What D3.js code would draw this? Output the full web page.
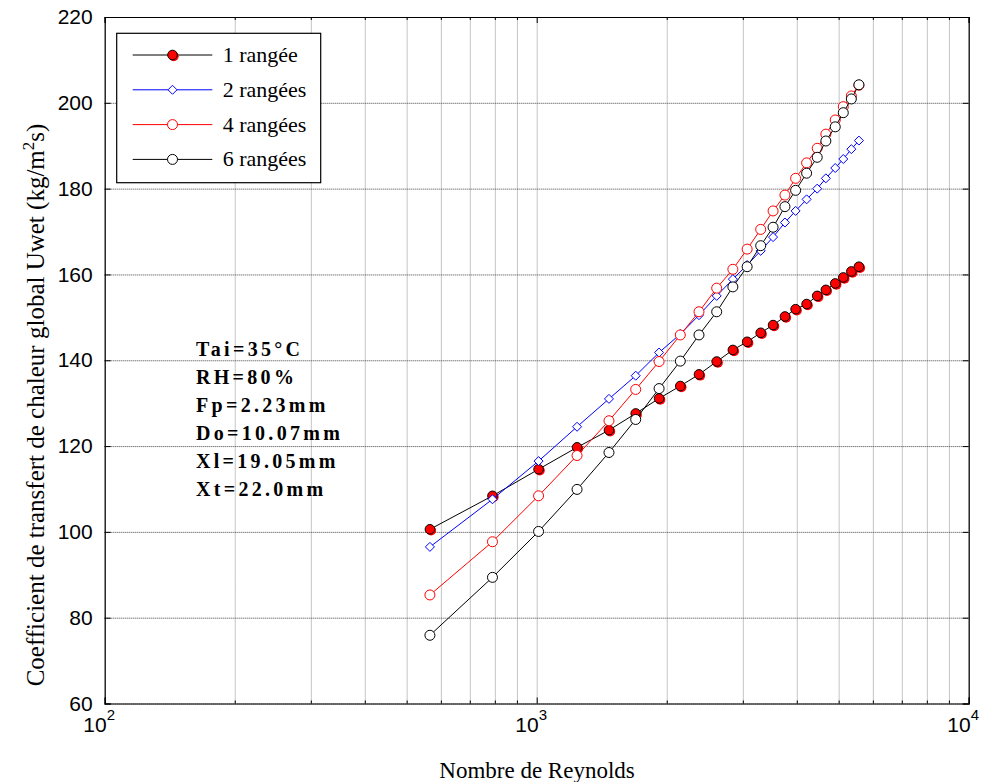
<!DOCTYPE html>
<html>
<head>
<meta charset="utf-8">
<script src="https://cdn.jsdelivr.net/npm/d3@7"></script>
<style>
  body { margin: 0; background: #fff; }
  svg { display: block; }
  .tick text { font-family: "Liberation Sans", Arial, sans-serif; font-size: 21px; fill: #000; }
</style>
</head>
<body>
<svg id="chart" width="989" height="782"></svg>
<script>
// Reynolds numbers (shared by all series)
const reynolds = [566, 790, 1010, 1240, 1470, 1695, 1920, 2150, 2375, 2610, 2845, 3070,
  3300, 3525, 3755, 3975, 4215, 4460, 4670, 4910, 5125, 5350, 5570];

const rangee1 = [100.6, 108.4, 114.6, 119.7, 123.7, 127.6, 131.1, 134.0, 136.7, 139.7, 142.4, 144.3,
  146.4, 148.2, 150.2, 151.9, 153.1, 155.0, 156.4, 157.9, 159.3, 160.7, 161.8];
const rangee2 = [96.5, 107.6, 116.5, 124.5, 131.0, 136.4, 141.8, 146.1, 150.5, 155.0, 158.9, 162.2,
  165.5, 168.7, 172.1, 174.8, 177.5, 180.0, 182.4, 184.8, 186.9, 189.2, 191.2];
const rangee4 = [85.3, 97.7, 108.4, 117.8, 125.9, 133.2, 139.7, 145.9, 151.3, 156.8, 161.2, 165.9,
  170.5, 174.8, 178.5, 182.4, 186.0, 189.4, 192.7, 196.0, 199.1, 201.6, 204.1];
const rangee6 = [75.9, 89.4, 100.1, 109.9, 118.5, 126.2, 133.4, 139.8, 145.9, 151.3, 157.1, 161.8,
  166.7, 171.0, 175.8, 179.6, 183.6, 187.3, 191.1, 194.4, 197.7, 200.9, 204.2];

const seriesNames = ['1 rangée', '2 rangées', '4 rangées', '6 rangées'];
const yTicks = [60, 80, 100, 120, 140, 160, 180, 200, 220];
const xMajor = [100, 1000, 10000];
const xMinor = [200, 300, 400, 500, 600, 700, 800, 900, 2000, 3000, 4000, 5000, 6000, 7000, 8000, 9000];
const infoLines = ['Tai=35°C', 'RH=80%', 'Fp=2.23mm', 'Do=10.07mm', 'Xl=19.05mm', 'Xt=22.0mm'];

const svg = d3.select('#chart');
const L = 104.7, R = 968.7, T = 17, B = 703.5;
const serif = '"Liberation Serif", "Times New Roman", serif';

const x = d3.scaleLog().domain([100, 10000]).range([L, R]);
const y = d3.scaleLinear().domain([60, 220]).range([B, T]);

// grid lines
svg.append('g')
  .attr('transform', `translate(0,${B})`)
  .call(d3.axisBottom(x).tickValues(xMajor.concat(xMinor)).tickSize(-(B - T)).tickFormat(''))
  .call(g => g.select('.domain').remove())
  .selectAll('line').attr('stroke', '#8a8a8a').attr('stroke-dasharray', '1,1');
svg.append('g')
  .attr('transform', `translate(${L},0)`)
  .call(d3.axisLeft(y).tickValues(yTicks).tickSize(-(R - L)).tickFormat(''))
  .call(g => g.select('.domain').remove())
  .selectAll('line').attr('stroke', '#444').attr('stroke-dasharray', '1,1');

// axes box with inward ticks
const xb = svg.append('g').attr('transform', `translate(0,${B})`)
  .call(d3.axisBottom(x).tickValues(xMajor).tickSize(-6).tickPadding(14).tickFormat(() => '10'));
xb.selectAll('.tick text').each(function(d) {
  d3.select(this).attr('dx', '-6')
    .append('tspan').attr('dy', '-12').style('font-size', '15px').text(Math.round(Math.log10(d)));
});
svg.append('g').attr('transform', `translate(0,${B})`)
  .call(d3.axisBottom(x).tickValues(xMinor).tickSize(-3).tickFormat(''))
  .select('.domain').remove();
svg.append('g').attr('transform', `translate(0,${T})`)
  .call(d3.axisTop(x).tickValues(xMajor).tickSize(-6).tickFormat(''));
svg.append('g').attr('transform', `translate(0,${T})`)
  .call(d3.axisTop(x).tickValues(xMinor).tickSize(-3).tickFormat(''))
  .select('.domain').remove();
svg.append('g').attr('transform', `translate(${L},0)`)
  .call(d3.axisLeft(y).tickValues(yTicks).tickSize(-6).tickPadding(12));
svg.append('g').attr('transform', `translate(${R},0)`)
  .call(d3.axisRight(y).tickValues(yTicks).tickSize(-6).tickFormat(''));
svg.selectAll('.domain').attr('stroke', '#000').attr('stroke-width', 1.2);

// axis titles
svg.append('text')
  .attr('x', 537).attr('y', 778)
  .attr('text-anchor', 'middle')
  .style('font-family', serif).style('font-size', '23px')
  .text('Nombre de Reynolds');
const yl = svg.append('text')
  .attr('transform', 'translate(44,405) rotate(-90)')
  .attr('text-anchor', 'middle')
  .style('font-family', serif).style('font-size', '25px');
yl.append('tspan').text('Coefficient de transfert de chaleur global Uwet (kg/m');
yl.append('tspan').attr('dy', -10).style('font-size', '17px').text('2');
yl.append('tspan').attr('dy', 10).text('s)');

// series
const series = [
  { name: seriesNames[0], vals: rangee1, line: '#000', type: 'filled' },
  { name: seriesNames[1], vals: rangee2, line: '#0000ff', type: 'diamond' },
  { name: seriesNames[2], vals: rangee4, line: '#ff0000', type: 'open', edge: '#ff0000' },
  { name: seriesNames[3], vals: rangee6, line: '#000', type: 'open', edge: '#000' }
];

const line = d3.line().x(d => x(d[0])).y(d => y(d[1]));

function drawMarker(g, s, cx, cy) {
  if (s.type === 'filled') {
    g.append('circle').attr('cx', cx + 1.2).attr('cy', cy + 1.2).attr('r', 5).attr('fill', '#ff0000');
    g.append('circle').attr('cx', cx).attr('cy', cy).attr('r', 4.8)
      .attr('fill', '#ff0000').attr('stroke', '#000').attr('stroke-width', 1);
  } else if (s.type === 'diamond') {
    g.append('path').attr('d', `M${cx},${cy - 4.5}L${cx + 4.5},${cy}L${cx},${cy + 4.5}L${cx - 4.5},${cy}Z`)
      .attr('fill', '#fff').attr('stroke', '#0000ff').attr('stroke-width', 1);
  } else {
    g.append('circle').attr('cx', cx).attr('cy', cy).attr('r', 5)
      .attr('fill', '#fff').attr('stroke', s.edge).attr('stroke-width', 1);
  }
}

series.forEach(s => {
  const pts = reynolds.map((r, i) => [r, s.vals[i]]);
  const g = svg.append('g');
  g.append('path').datum(pts).attr('d', line)
    .attr('fill', 'none').attr('stroke', s.line).attr('stroke-width', 1);
  pts.forEach(p => drawMarker(g, s, x(p[0]), y(p[1])));
});

// info text
const info = svg.append('text')
  .style('font-family', serif)
  .style('font-size', '20px').style('font-weight', 'bold').style('letter-spacing', '3.3px');
infoLines.forEach((t, i) => {
  info.append('tspan').attr('x', 196).attr('y', 356 + i * 28).text(t);
});

// legend
const lg = svg.append('g');
lg.append('rect').attr('x', 116.7).attr('y', 33.3).attr('width', 204).attr('height', 149.4)
  .attr('fill', '#fff').attr('stroke', '#000').attr('stroke-width', 1.2);
series.forEach((s, i) => {
  const ly = 55 + i * 34.8;
  lg.append('line').attr('x1', 132.7).attr('x2', 212.3).attr('y1', ly).attr('y2', ly)
    .attr('stroke', s.line).attr('stroke-width', 1);
  drawMarker(lg, s, 172.5, ly);
  lg.append('text').attr('x', 222.7).attr('y', ly + 7)
    .style('font-family', serif).style('font-size', '22px')
    .text(s.name);
});
</script>
</body>
</html>
